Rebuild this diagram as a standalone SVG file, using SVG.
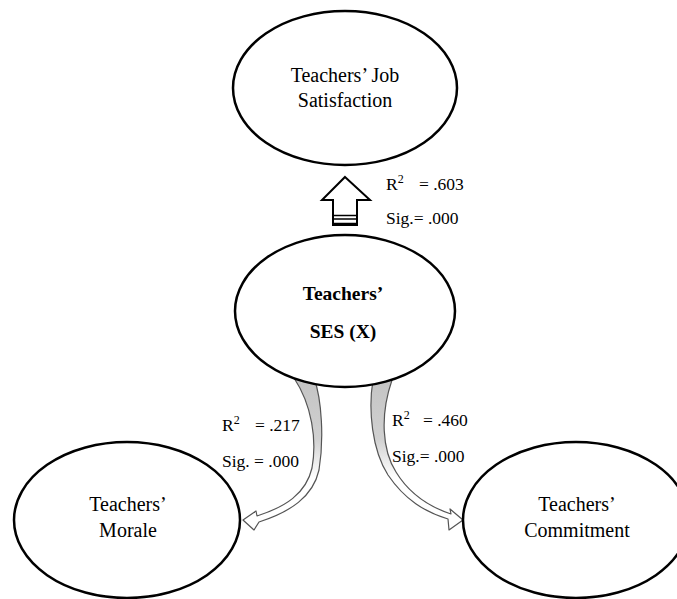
<svg xmlns="http://www.w3.org/2000/svg" width="677" height="599" viewBox="0 0 677 599">
<style>
.node{fill:#fff;stroke:#000;stroke-width:2.5}
.nt{font-family:"Liberation Serif","Times New Roman",serif;font-size:20px;fill:#000;text-anchor:middle}
.bt{font-family:"Liberation Serif","Times New Roman",serif;font-size:19.5px;font-weight:bold;fill:#000;text-anchor:middle}
.lb{font-family:"Liberation Serif","Times New Roman",serif;font-size:17.5px;fill:#000}
.sup{font-size:12px}
.band{stroke:#555;stroke-width:1.2;stroke-linejoin:round}
</style>
<defs>
<linearGradient id="gL" gradientUnits="userSpaceOnUse" x1="0" y1="380" x2="0" y2="510">
<stop offset="0" stop-color="#c4c4c4"/><stop offset="0.45" stop-color="#d0d0d0"/><stop offset="0.75" stop-color="#fff"/>
</linearGradient>
</defs>
<rect width="677" height="599" fill="#fff"/>
<g id="connectors">
<path class="band" fill="url(#gL)" d="M314 378 C322 400,324 440,319 470 C313 497,290 512,259 522 L254 530 L243 520 L256 511 L257 516 C285 507,306 494,312 468 C317 440,312 405,294 378 Z"/>
<path class="band" fill="url(#gL)" d="M373 380 C368 410,372 450,388 475 C405 500,425 512,448 519 L449 530 L463 520 L450 509 L451 514 C430 507,410 495,396 472 C382 450,380 415,392 380 Z"/>
<g id="arrow-up">
<path d="M345 177 L370 200 L357 200 L357 225 L333 225 L333 200 L322 200 Z" fill="#fff" stroke="#000" stroke-width="2" stroke-linejoin="miter"/>
<line x1="333" y1="215.5" x2="357" y2="215.5" stroke="#000" stroke-width="1.5"/>
<line x1="333" y1="219" x2="357" y2="219" stroke="#000" stroke-width="1.5"/>
<line x1="333" y1="224" x2="357" y2="224" stroke="#000" stroke-width="2.5"/>
</g>
</g>
<g id="n-job">
<ellipse class="node" cx="345" cy="88" rx="112" ry="77"/>
<text class="nt" x="345" y="82">Teachers’ Job</text>
<text class="nt" x="345" y="107">Satisfaction</text>
</g>
<g id="n-ses">
<ellipse class="node" cx="345" cy="311" rx="110" ry="76"/>
<text class="bt" x="343" y="300">Teachers’</text>
<text class="bt" x="343" y="338">SES (X)</text>
</g>
<g id="n-morale">
<ellipse class="node" cx="127" cy="520" rx="113" ry="78"/>
<text class="nt" x="128" y="511">Teachers’</text>
<text class="nt" x="128" y="537">Morale</text>
</g>
<g id="n-commit">
<ellipse class="node" cx="576" cy="520" rx="113" ry="78"/>
<text class="nt" x="577" y="511">Teachers’</text>
<text class="nt" x="577" y="537">Commitment</text>
</g>
<g id="labels">
<text class="lb" x="386" y="190">R<tspan class="sup" dy="-7">2</tspan><tspan x="419" dy="7">= .603</tspan></text>
<text class="lb" x="386" y="224">Sig.= .000</text>
<text class="lb" x="222" y="431">R<tspan class="sup" dy="-7">2</tspan><tspan x="255" dy="7">= .217</tspan></text>
<text class="lb" x="222" y="467">Sig. = .000</text>
<text class="lb" x="392" y="426">R<tspan class="sup" dy="-7">2</tspan><tspan x="423" dy="7">= .460</tspan></text>
<text class="lb" x="392" y="462">Sig.= .000</text>
</g>
</svg>
